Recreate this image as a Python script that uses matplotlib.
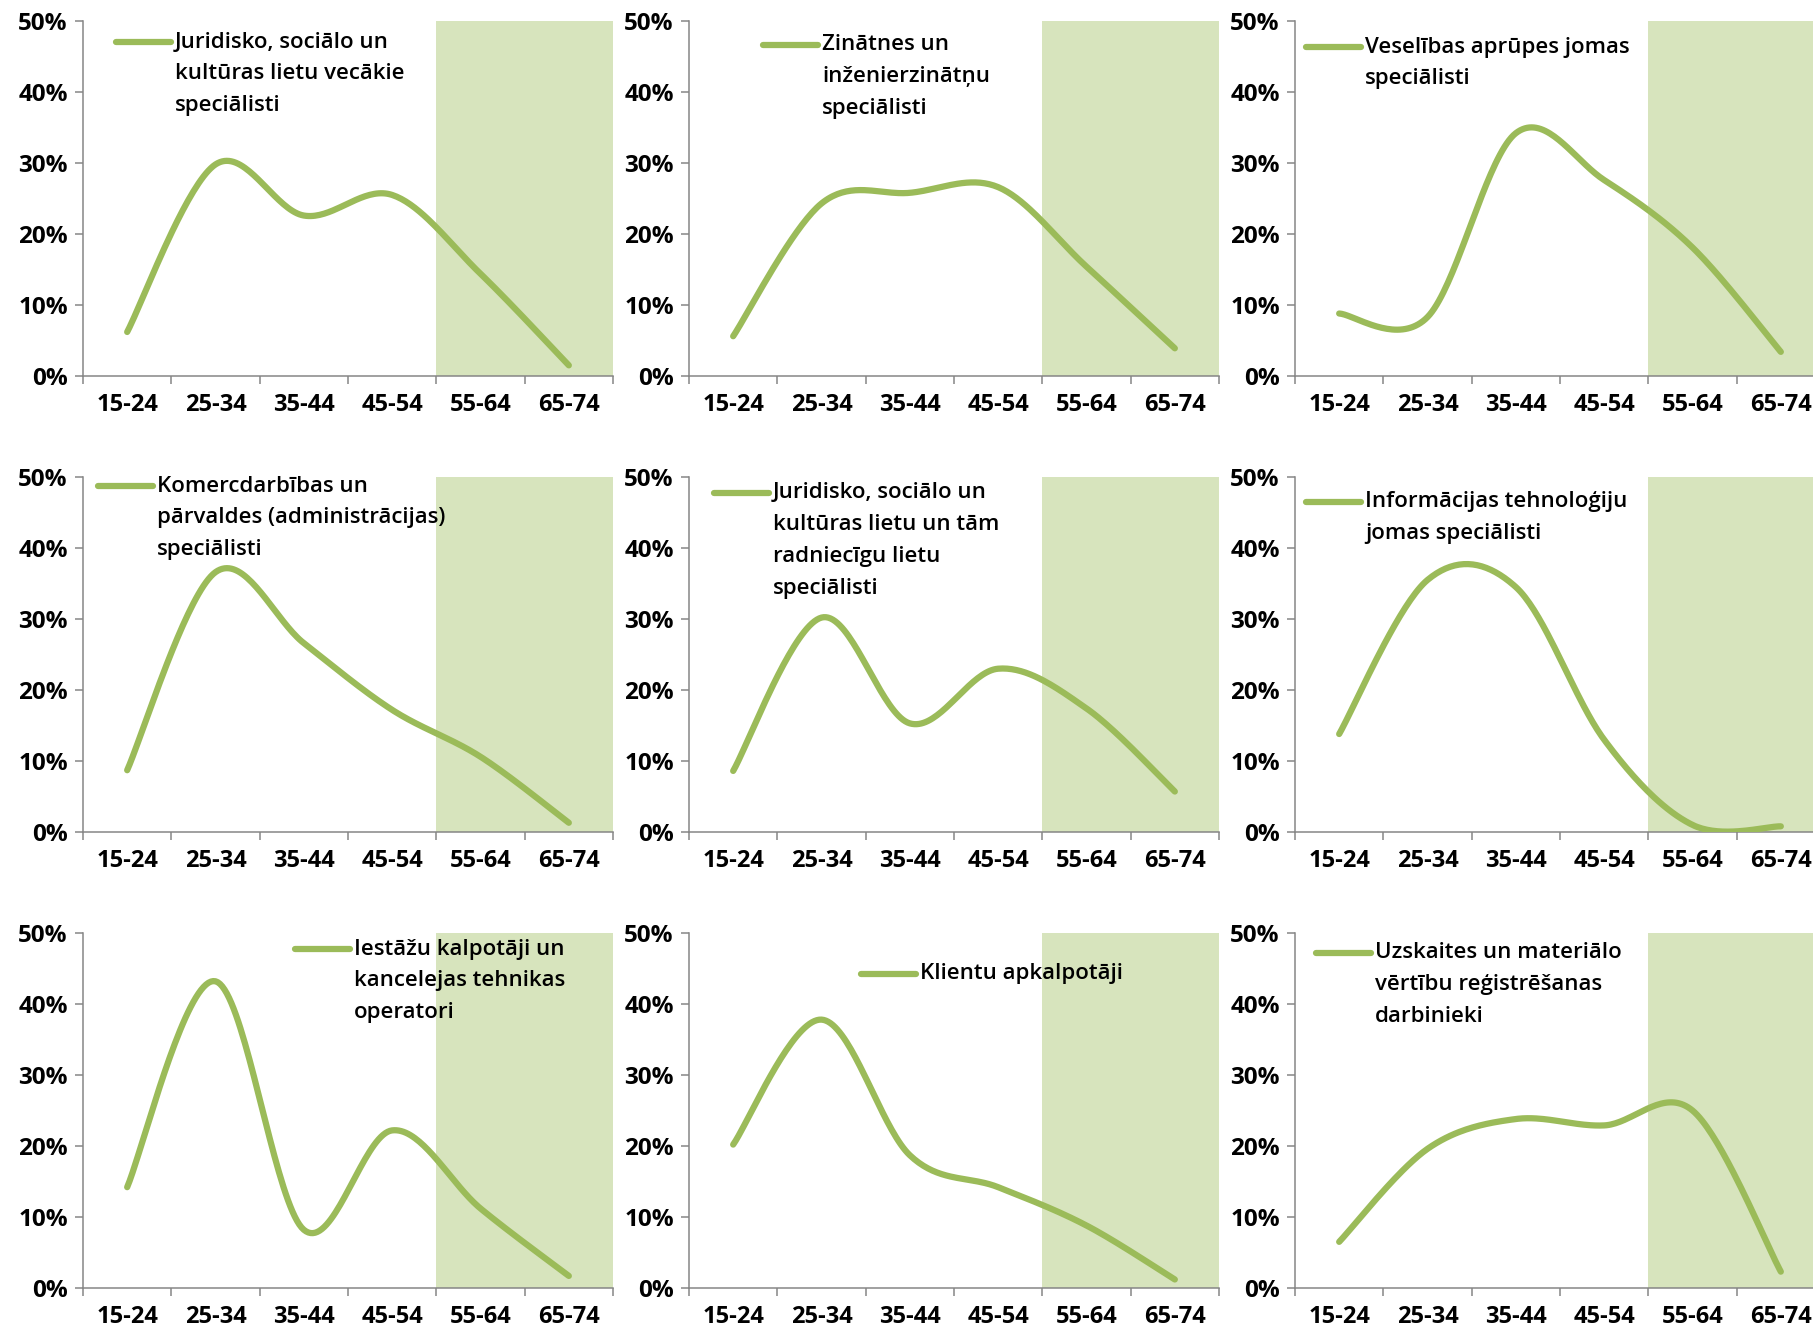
import numpy as np
import matplotlib
matplotlib.use("Agg")
import matplotlib.pyplot as plt
from matplotlib.lines import Line2D

plt.rcParams['font.family'] = ['Open Sans', 'DejaVu Sans']

age_groups = ["15-24", "25-34", "35-44", "45-54", "55-64", "65-74"]

# panel titles (legend labels), split into lines as in the reference
titles = [
    ["Juridisko, sociālo un", "kultūras lietu vecākie", "speciālisti"],
    ["Zinātnes un", "inženierzinātņu", "speciālisti"],
    ["Veselības aprūpes jomas", "speciālisti"],
    ["Komercdarbības un", "pārvaldes (administrācijas)", "speciālisti"],
    ["Juridisko, sociālo un", "kultūras lietu un tām", "radniecīgu lietu", "speciālisti"],
    ["Informācijas tehnoloģiju", "jomas speciālisti"],
    ["Iestāžu kalpotāji un", "kancelejas tehnikas", "operatori"],
    ["Klientu apkalpotāji"],
    ["Uzskaites un materiālo", "vērtību reģistrēšanas", "darbinieki"],
]

# shares by age group, %
jurid_vec = [6.2, 29.8, 22.6, 25.5, 14.4, 1.5]
zinatnes = [5.6, 24.3, 25.8, 26.6, 15.4, 3.9]
veseliba = [8.8, 8.3, 34.2, 27.6, 18.1, 3.4]
komerc = [8.7, 36.6, 26.6, 17.2, 10.6, 1.3]
jurid_rad = [8.6, 30.2, 15.3, 23.0, 17.4, 5.7]
it_spec = [13.8, 35.5, 34.5, 13.0, 1.0, 0.8]
iestazu = [14.2, 43.2, 8.2, 22.2, 11.2, 1.7]
klientu = [20.2, 37.8, 18.7, 14.2, 8.8, 1.2]
uzskaites = [6.5, 19.6, 23.8, 22.9, 25.0, 2.3]

series = [jurid_vec, zinatnes, veseliba, komerc, jurid_rad, it_spec,
          iestazu, klientu, uzskaites]

# legend anchor (handle start x, first line y) in pixels of the figure
legend_pos = [(116, 42), (763, 45), (1306, 47),
              (98, 486), (714, 493), (1306, 502),
              (295, 949), (861, 974), (1316, 953)]

W, H = 1813, 1326
line_col = "#9BBB59"
shade_col = "#D7E4BD"
axis_col = "#868686"


def smooth(y, n=40):
    # Excel-like smoothed line: Catmull-Rom as cubic Bezier segments
    x = np.arange(len(y), dtype=float)
    y = np.asarray(y, dtype=float)
    P = np.column_stack([x, y])
    Pe = np.vstack([P[0], P, P[-1]])
    out = []
    t = np.linspace(0, 1, n)[:, None]
    for i in range(len(P) - 1):
        p0, p1 = Pe[i + 1], Pe[i + 2]
        c1 = p0 + (Pe[i + 2] - Pe[i]) / 6
        c2 = p1 - (Pe[i + 3] - Pe[i + 1]) / 6
        seg = ((1 - t) ** 3) * p0 + 3 * ((1 - t) ** 2) * t * c1 + 3 * (1 - t) * t ** 2 * c2 + t ** 3 * p1
        out.append(seg if i == 0 else seg[1:])
    out = np.vstack(out)
    return out[:, 0], out[:, 1]


fig = plt.figure(figsize=(W / 100, H / 100), dpi=100)

col_left = [83, 689, 1295]
row_top = [21, 477, 933]
ax_w, ax_h = 530, 355

for k, vals in enumerate(series):
    r, c = divmod(k, 3)
    ax = fig.add_axes([col_left[c] / W, 1 - (row_top[r] + ax_h) / H, ax_w / W, ax_h / H])
    ax.axvspan(3.5, 5.5, color=shade_col, lw=0, zorder=0)
    xs, ys = smooth(vals)
    ax.plot(xs, ys, color=line_col, lw=4.5, solid_capstyle='round', zorder=3)
    ax.set_xlim(-0.5, 5.5)
    ax.set_ylim(0, 50)
    ax.set_yticks([0, 10, 20, 30, 40, 50])
    ax.set_yticklabels([f"{v}%" for v in range(0, 60, 10)])
    ax.set_xticks(range(6))
    ax.set_xticklabels(age_groups)
    ax.set_xticks(np.arange(-0.5, 6, 1), minor=True)
    ax.tick_params(axis='x', which='major', length=0, pad=12, labelsize=17)
    ax.tick_params(axis='x', which='minor', length=6, width=1.1, color=axis_col, direction='out')
    ax.tick_params(axis='y', which='major', length=6, width=1.1, color=axis_col, pad=5, labelsize=17.5)
    for lab in ax.get_xticklabels() + ax.get_yticklabels():
        lab.set_fontweight('bold')
    for s in ['top', 'right']:
        ax.spines[s].set_visible(False)
    for s in ['left', 'bottom']:
        ax.spines[s].set_color(axis_col)
        ax.spines[s].set_linewidth(1.1)
    ax.patch.set_alpha(0)

    hx, hy = legend_pos[k]
    fig.add_artist(Line2D([hx / W, (hx + 55) / W], [1 - hy / H, 1 - hy / H],
                          color=line_col, lw=4.5, solid_capstyle='round'))
    for i, txt in enumerate(titles[k]):
        fig.text((hx + 59) / W, 1 - (hy + i * 31.8) / H, txt, fontsize=16,
                 fontweight='semibold', va='center', ha='left')

fig.savefig("out.png", dpi=100)
